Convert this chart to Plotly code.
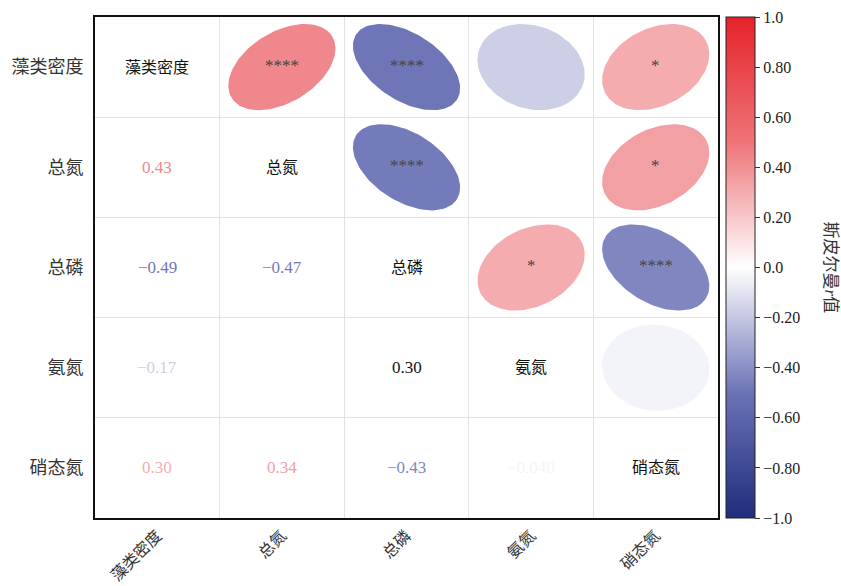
import numpy as np
import plotly.graph_objects as go

# ---------------- data ----------------
names = ["藻类密度", "总氮", "总磷", "氨氮", "硝态氮"]
# lower-triangle Spearman r (row, col) with row > col
r_pairs = [(1, 0), (2, 0), (2, 1), (3, 0), (3, 1), (3, 2), (4, 0), (4, 1), (4, 2), (4, 3)]
r_values = [0.43, -0.49, -0.47, -0.17, 0.0, 0.30, 0.30, 0.34, -0.43, -0.040]
sig_marks = ["****", "****", "****", "", "", "*", "*", "*", "****", ""]
cbar_vals = [-1.0, -0.8, -0.6, -0.4, -0.2, 0.0, 0.2, 0.4, 0.6, 0.8, 1.0]
cbar_text = ["−1.0", "−0.80", "−0.60", "−0.40", "−0.20", "0.0", "0.20", "0.40", "0.60", "0.80", "1.0"]
cbar_title = "斯皮尔曼<i>r</i>值"
label_color_override = {(3, 2): "#111111"}

# ---------------- style ----------------
cscale = [[0.0, "#1f2d7c"], [0.25, "#6b73b6"], [0.5, "#ffffff"], [0.75, "#ee7479"], [1.0, "#e6222a"]]
FONT = "Liberation Serif, Noto Sans CJK SC, serif"
W, H = 841, 586
ML, MR, MT, MB = 95, 123, 17, 68
n = len(names)
S = 0.43                 # ellipse half-extent, in cell units


def hex2rgb(h):
    h = h.lstrip("#")
    return np.array([int(h[i:i + 2], 16) for i in (0, 2, 4)], dtype=float)


def color_of(v):
    t = (v + 1) / 2
    for (p0, c0), (p1, c1) in zip(cscale[:-1], cscale[1:]):
        if p0 <= t <= p1:
            f = (t - p0) / (p1 - p0) if p1 > p0 else 0
            c = hex2rgb(c0) * (1 - f) + hex2rgb(c1) * f
            return "rgb(%d,%d,%d)" % tuple(np.round(c))
    return cscale[-1][1]


def fmt(v):
    s = f"{v:.2f}" if abs(v) >= 0.1 else f"{v:.3f}"
    return s.replace("-", "−")


fig = go.Figure()
t = np.linspace(0, 2 * np.pi, 120)
ann = []
for (i, j), r, sig in zip(r_pairs, r_values, sig_marks):
    # upper triangle ellipse at (row j, col i)
    a = S * np.sqrt(1 + abs(r))
    b = S * np.sqrt(1 - abs(r))
    u = a * np.cos(t)
    v = b * np.sin(t)
    if r >= 0:
        px = (u - v) / np.sqrt(2)
        py = (u + v) / np.sqrt(2)
    else:
        px = (u + v) / np.sqrt(2)
        py = (-u + v) / np.sqrt(2)
    xs = i + px
    ys = j - py
    col = color_of(r)
    fig.add_trace(go.Scatter(x=xs, y=ys, mode="lines", fill="toself", fillcolor=col,
                             line=dict(width=0, color=col), hoverinfo="skip", showlegend=False))
    if sig:
        ann.append(dict(x=i, y=j - 0.02, text=sig, showarrow=False,
                        font=dict(family=FONT, size=17, color="#444444")))
    # lower triangle number at (row i, col j)
    tc = label_color_override.get((i, j), color_of(r))
    ann.append(dict(x=j, y=i, text=fmt(r), showarrow=False,
                    font=dict(family=FONT, size=17, color=tc)))

for k, nm in enumerate(names):
    ann.append(dict(x=k, y=k, text=nm, showarrow=False,
                    font=dict(family=FONT, size=16, color="#111111")))

# colorbar title as rotated annotation
ann.append(dict(x=1.0, xref="paper", xanchor="center", xshift=(830 - (W - MR)),
                y=0.5, yref="paper", yanchor="middle",
                text=cbar_title, textangle=90, showarrow=False,
                font=dict(family=FONT, size=17, color="#333333")))

# colorbar carrier
fig.add_trace(go.Scatter(
    x=[None], y=[None], mode="markers", hoverinfo="skip", showlegend=False,
    marker=dict(color=[0], cmin=-1, cmax=1, colorscale=cscale, showscale=True,
                colorbar=dict(x=1.0, xanchor="left", xpad=8, y=0.5, yanchor="middle",
                              len=1, lenmode="fraction", ypad=0, thickness=29,
                              outlinewidth=1, outlinecolor="#222222",
                              tickvals=cbar_vals, ticktext=cbar_text,
                              ticks="outside", ticklen=5, tickcolor="#333333",
                              tickfont=dict(family=FONT, size=16, color="#222222")))))

axis_common = dict(range=[-0.5, n - 0.5], tickvals=list(range(n)), ticktext=names,
                   showgrid=False, zeroline=False, showline=True, linewidth=2,
                   linecolor="#111111", mirror=True, ticks="",
                   tickfont=dict(family=FONT, size=16, color="#333333"),
                   minor=dict(tick0=0.5, dtick=1, showgrid=True, gridcolor="#e2e2e2", gridwidth=1))

fig.update_layout(
    width=W, height=H, margin=dict(l=ML, r=MR, t=MT, b=MB, autoexpand=False),
    paper_bgcolor="white", plot_bgcolor="white",
    xaxis=dict(**axis_common, tickangle=-45),
    yaxis=dict(**{**axis_common, "range": [n - 0.5, -0.5], "ticklabelstandoff": 6,
                  "tickfont": dict(family=FONT, size=18, color="#333333")}),
    annotations=ann,
)
fig.write_html("out.html", config={"displayModeBar": False},
               post_script="document.body.style.margin='0';document.body.style.padding='0';")
